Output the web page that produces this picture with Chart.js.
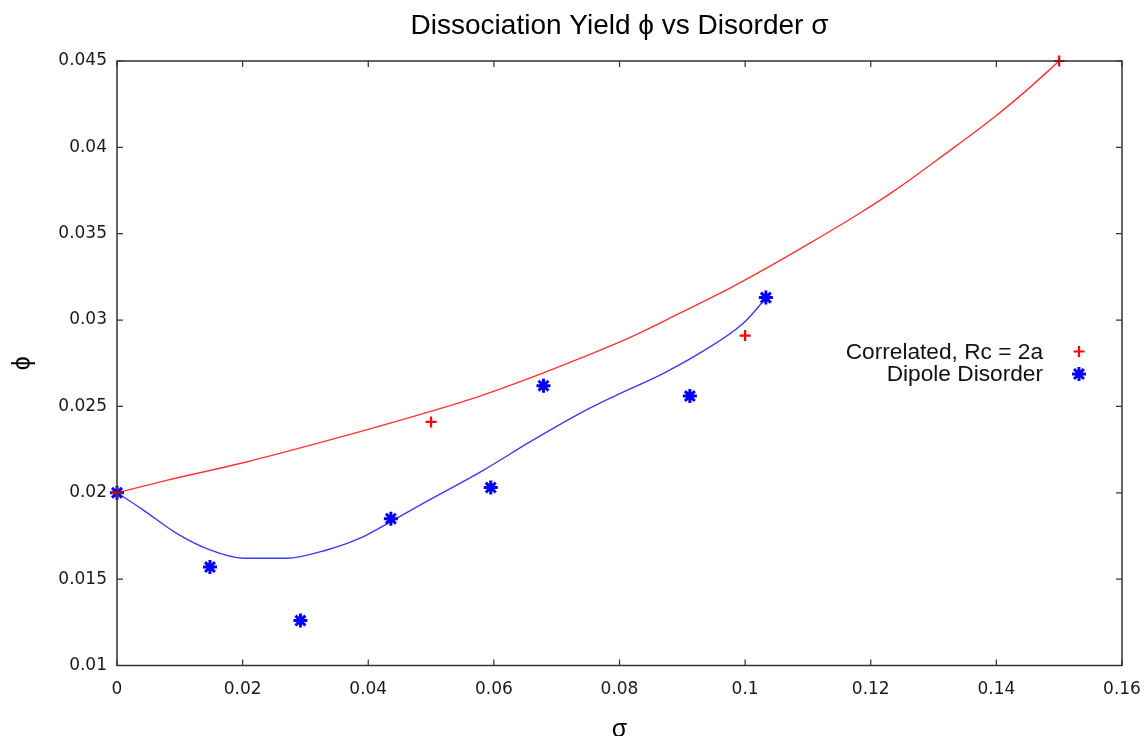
<!DOCTYPE html>
<html>
<head>
<meta charset="utf-8">
<script src="https://cdn.jsdelivr.net/npm/chart.js@4.4.1/dist/chart.umd.min.js"></script>
<style>
  html, body { margin: 0; padding: 0; background: #ffffff; }
  canvas { display: block; }
</style>
</head>
<body>
<canvas id="c" width="1146" height="736"></canvas>
<script>
// ---- data ----
const titleText = 'Dissociation Yield \u03D5 vs Disorder \u03C3';
const xAxisTitle = '\u03C3';
const yAxisTitle = '\u03D5';

const xTickValues = [0, 0.02, 0.04, 0.06, 0.08, 0.1, 0.12, 0.14, 0.16];
const xTickLabels = ['0', '0.02', '0.04', '0.06', '0.08', '0.1', '0.12', '0.14', '0.16'];
const yTickValues = [0.01, 0.015, 0.02, 0.025, 0.03, 0.035, 0.04, 0.045];
const yTickLabels = ['0.01', '0.015', '0.02', '0.025', '0.03', '0.035', '0.04', '0.045'];

const correlatedLabel = 'Correlated, Rc = 2a';
const correlatedX = [0, 0.05, 0.1, 0.15];
const correlatedY = [0.0200, 0.0241, 0.0291, 0.0450];

const dipoleLabel = 'Dipole Disorder';
const dipoleX = [0, 0.0148, 0.0292, 0.0436, 0.0595, 0.0679, 0.0912, 0.1033];
const dipoleY = [0.0200, 0.0157, 0.0126, 0.0185, 0.0203, 0.0262, 0.0256, 0.0313];

const correlatedFitX = [0, 0.0079, 0.0201, 0.0339, 0.0498, 0.0578, 0.0658, 0.0737, 0.0817, 0.0896, 0.0976, 0.1029, 0.1103, 0.1183, 0.1236, 0.1316, 0.1395, 0.1448, 0.1500];
const correlatedFitY = [0.0200, 0.02072, 0.02174, 0.02306, 0.02470, 0.02560, 0.02665, 0.02778, 0.02900, 0.03040, 0.03185, 0.03290, 0.03445, 0.03620, 0.03745, 0.03955, 0.04170, 0.04330, 0.0450];

const dipoleFitX = [0, 0.0042, 0.0095, 0.0148, 0.0201, 0.0270, 0.0334, 0.0387, 0.0440, 0.0493, 0.0583, 0.0658, 0.0737, 0.0790, 0.0870, 0.0923, 0.0997, 0.1033];
const dipoleFitY = [0.0200, 0.01900, 0.01765, 0.01669, 0.01621, 0.01621, 0.01669, 0.01737, 0.01842, 0.01950, 0.02130, 0.02296, 0.02460, 0.02556, 0.02692, 0.02798, 0.02981, 0.03126];

const pairs = (xs, ys) => xs.map((x, i) => ({ x: x, y: ys[i] }));

// ---- plugins ----
const framePlugin = {
  id: 'frame',
  afterDatasetsDraw(chart) {
    const { ctx, chartArea: a, scales } = chart;
    ctx.save();
    ctx.strokeStyle = '#333333';
    ctx.lineWidth = 1.5;
    ctx.strokeRect(a.left, a.top, a.right - a.left, a.bottom - a.top);
    ctx.lineWidth = 1.2;
    ctx.beginPath();
    const tl = 6;
    scales.x.ticks.forEach(t => {
      const px = scales.x.getPixelForValue(t.value);
      ctx.moveTo(px, a.bottom); ctx.lineTo(px, a.bottom - tl);
      ctx.moveTo(px, a.top); ctx.lineTo(px, a.top + tl);
    });
    scales.y.ticks.forEach(t => {
      const py = scales.y.getPixelForValue(t.value);
      ctx.moveTo(a.left, py); ctx.lineTo(a.left + tl, py);
      ctx.moveTo(a.right, py); ctx.lineTo(a.right - tl, py);
    });
    ctx.stroke();
    ctx.restore();
  }
};

const keyPlugin = {
  id: 'gnuKey',
  afterDraw(chart) {
    const { ctx } = chart;
    const items = chart.data.datasets.filter(d => d.inKey);
    const textRight = 1043, markX = 1079, y0 = 351.5, dy = 22.5;
    ctx.save();
    ctx.font = '22.7px "Liberation Sans", Arial, sans-serif';
    ctx.textAlign = 'right';
    ctx.textBaseline = 'middle';
    items.forEach((d, i) => {
      const y = y0 + i * dy;
      ctx.fillStyle = '#111111';
      ctx.fillText(d.label, textRight, y + 1);
      ctx.strokeStyle = d.borderColor;
      ctx.fillStyle = d.backgroundColor;
      ctx.lineWidth = d.pointBorderWidth;
      Chart.helpers.drawPoint(ctx, { pointStyle: d.pointStyle, radius: d.pointRadius, rotation: 0, borderWidth: d.pointBorderWidth }, markX, y);
    });
    ctx.restore();
  }
};

// ---- chart ----
new Chart(document.getElementById('c'), {
  type: 'scatter',
  data: {
    datasets: [
      {
        label: correlatedLabel, inKey: true,
        data: pairs(correlatedX, correlatedY),
        pointStyle: 'cross', pointRadius: 5.5, pointBorderWidth: 2.2,
        borderColor: '#ff0000', backgroundColor: '#ff0000',
        showLine: false, clip: false
      },
      {
        label: dipoleLabel, inKey: true,
        data: pairs(dipoleX, dipoleY),
        pointStyle: 'star', pointRadius: 7, pointBorderWidth: 3,
        borderColor: '#0000ff', backgroundColor: '#0000ff',
        showLine: false, clip: false
      },
      {
        label: 'fit correlated',
        data: pairs(correlatedFitX, correlatedFitY),
        showLine: true, pointRadius: 0, borderWidth: 1.4,
        borderColor: '#ff3333', cubicInterpolationMode: 'monotone', clip: false
      },
      {
        label: 'fit dipole',
        data: pairs(dipoleFitX, dipoleFitY),
        showLine: true, pointRadius: 0, borderWidth: 1.4,
        borderColor: '#3a3aff', cubicInterpolationMode: 'monotone', clip: false
      }
    ]
  },
  options: {
    responsive: false,
    animation: false,
    devicePixelRatio: 1,
    layout: { padding: { left: 0, right: 24, top: 0, bottom: 0 } },
    plugins: {
      legend: { display: false },
      tooltip: { enabled: false },
      title: {
        display: true,
        fullSize: false,
        text: titleText,
        color: '#000000',
        font: { family: '"Liberation Sans", Arial, sans-serif', size: 28, weight: 'normal', lineHeight: 1.2 },
        padding: { top: 9, bottom: 18.4 }
      }
    },
    scales: {
      x: {
        type: 'linear', min: 0, max: 0.16,
        afterBuildTicks: s => { s.ticks = xTickValues.map(v => ({ value: v })); },
        afterFit: s => { s.height = 70.5; s.paddingLeft = 0; s.paddingRight = 0; },
        ticks: {
          autoSkip: false, maxRotation: 0, padding: 14,
          color: '#1a1a1a',
          font: { family: '"DejaVu Sans", Verdana, sans-serif', size: 17 },
          callback: (v, i) => xTickLabels[i]
        },
        grid: { display: false, drawTicks: false },
        border: { display: false },
        title: {
          display: true, text: xAxisTitle, color: '#000000',
          font: { family: '"Liberation Sans", Arial, sans-serif', size: 25, lineHeight: '12px' },
          padding: { top: 0, bottom: 0 }
        }
      },
      y: {
        type: 'linear', min: 0.01, max: 0.045,
        afterBuildTicks: s => { s.ticks = yTickValues.map(v => ({ value: v })); },
        afterFit: s => { s.width = 117; s.paddingTop = 0; s.paddingBottom = 0; },
        ticks: {
          autoSkip: false, padding: 10,
          color: '#1a1a1a',
          font: { family: '"DejaVu Sans", Verdana, sans-serif', size: 17 },
          callback: (v, i) => yTickLabels[i]
        },
        grid: { display: false, drawTicks: false },
        border: { display: false },
        title: {
          display: true, text: yAxisTitle, color: '#000000',
          font: { family: '"Liberation Sans", Arial, sans-serif', size: 25, lineHeight: '20px' },
          padding: { top: 13, bottom: 0 }
        }
      }
    }
  },
  plugins: [framePlugin, keyPlugin]
});
</script>
</body>
</html>
